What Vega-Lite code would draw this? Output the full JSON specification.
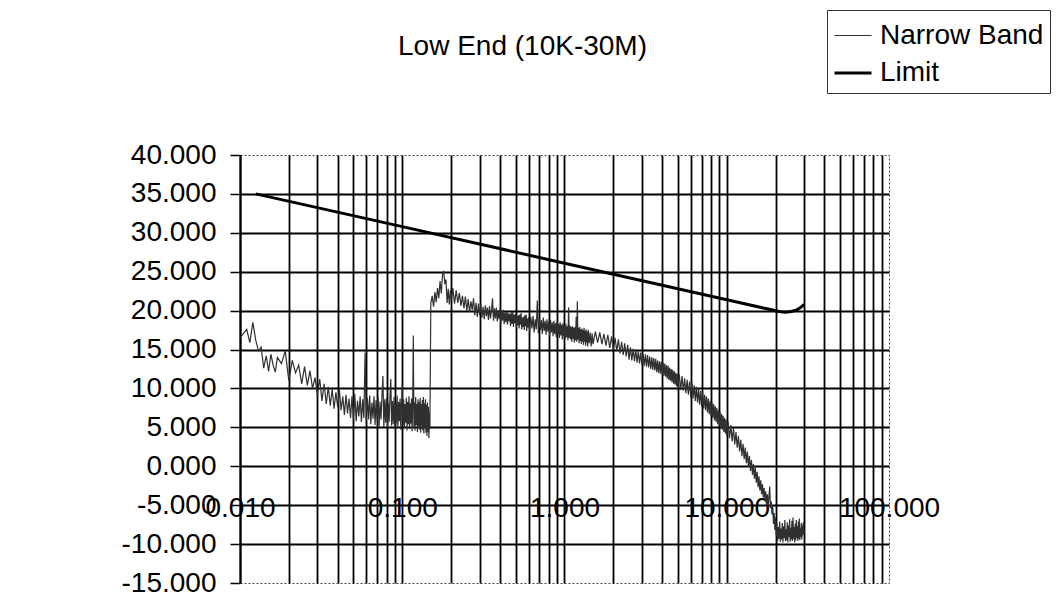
{
  "$schema": "https://vega.github.io/schema/vega-lite/v6.json",
  "autosize": "none",
  "width": 649,
  "height": 428,
  "padding": {"left": 240, "top": 155, "right": 173, "bottom": 33},
  "background": "white",
  "title": {
    "text": "Low End (10K-30M)",
    "font": "Liberation Sans",
    "fontSize": 28,
    "fontWeight": "normal",
    "color": "black",
    "anchor": "middle",
    "frame": "group",
    "dx": -42,
    "offset": -51
  },
  "config": {
    "view": {"stroke": "#444", "strokeDash": [2, 2], "strokeWidth": 1},
    "font": "Liberation Sans"
  },
  "data": {
    "values": [
      {"f": 0.010, "v": 16.5, "s": "Narrow Band"},
      {"f": 0.011, "v": 17.6, "s": "Narrow Band"},
      {"f": 0.0115, "v": 15.9, "s": "Narrow Band"},
      {"f": 0.012, "v": 18.5, "s": "Narrow Band"},
      {"f": 0.0125, "v": 16.2, "s": "Narrow Band"},
      {"f": 0.013, "v": 14.8, "s": "Narrow Band"},
      {"f": 0.0135, "v": 15.3, "s": "Narrow Band"},
      {"f": 0.014, "v": 12.6, "s": "Narrow Band"},
      {"f": 0.0145, "v": 14.2, "s": "Narrow Band"},
      {"f": 0.015, "v": 12.2, "s": "Narrow Band"},
      {"f": 0.0155, "v": 14.4, "s": "Narrow Band"},
      {"f": 0.016, "v": 13.0, "s": "Narrow Band"},
      {"f": 0.0165, "v": 12.1, "s": "Narrow Band"},
      {"f": 0.017, "v": 14.0, "s": "Narrow Band"},
      {"f": 0.018, "v": 13.2, "s": "Narrow Band"},
      {"f": 0.019, "v": 14.8, "s": "Narrow Band"},
      {"f": 0.020, "v": 11.0, "s": "Narrow Band"},
      {"f": 0.021, "v": 13.6, "s": "Narrow Band"},
      {"f": 0.022, "v": 12.0, "s": "Narrow Band"},
      {"f": 0.023, "v": 13.0, "s": "Narrow Band"},
      {"f": 0.024, "v": 10.6, "s": "Narrow Band"},
      {"f": 0.025, "v": 12.8, "s": "Narrow Band"},
      {"f": 0.026, "v": 10.4, "s": "Narrow Band"},
      {"f": 0.027, "v": 12.3, "s": "Narrow Band"},
      {"f": 0.028, "v": 10.0, "s": "Narrow Band"},
      {"f": 0.029, "v": 11.4, "s": "Narrow Band"},
      {"f": 0.030, "v": 9.2, "s": "Narrow Band"},
      {"f": 0.031, "v": 11.2, "s": "Narrow Band"},
      {"f": 0.032, "v": 8.4, "s": "Narrow Band"},
      {"f": 0.033, "v": 10.6, "s": "Narrow Band"},
      {"f": 0.034, "v": 8.0, "s": "Narrow Band"},
      {"f": 0.035, "v": 10.2, "s": "Narrow Band"},
      {"f": 0.036, "v": 7.8, "s": "Narrow Band"},
      {"f": 0.037, "v": 9.9, "s": "Narrow Band"},
      {"f": 0.038, "v": 7.4, "s": "Narrow Band"},
      {"f": 0.039, "v": 9.5, "s": "Narrow Band"},
      {"f": 0.040, "v": 7.6, "s": "Narrow Band"},
      {"f": 0.041, "v": 9.8, "s": "Narrow Band"},
      {"f": 0.042, "v": 7.2, "s": "Narrow Band"},
      {"f": 0.043, "v": 9.0, "s": "Narrow Band"},
      {"f": 0.044, "v": 6.6, "s": "Narrow Band"},
      {"f": 0.045, "v": 9.2, "s": "Narrow Band"},
      {"f": 0.046, "v": 6.8, "s": "Narrow Band"},
      {"f": 0.047, "v": 8.7, "s": "Narrow Band"},
      {"f": 0.048, "v": 6.2, "s": "Narrow Band"},
      {"f": 0.049, "v": 9.0, "s": "Narrow Band"},
      {"f": 0.050, "v": 6.0, "s": "Narrow Band"},
      {"f": 0.051, "v": 9.3, "s": "Narrow Band"},
      {"f": 0.052, "v": 5.8, "s": "Narrow Band"},
      {"f": 0.053, "v": 8.4, "s": "Narrow Band"},
      {"f": 0.054, "v": 6.4, "s": "Narrow Band"},
      {"f": 0.055, "v": 9.0, "s": "Narrow Band"},
      {"f": 0.056, "v": 5.7, "s": "Narrow Band"},
      {"f": 0.057, "v": 8.6, "s": "Narrow Band"},
      {"f": 0.058, "v": 6.2, "s": "Narrow Band"},
      {"f": 0.059, "v": 14.6, "s": "Narrow Band"},
      {"f": 0.060, "v": 5.8, "s": "Narrow Band"},
      {"f": 0.061, "v": 8.8, "s": "Narrow Band"},
      {"f": 0.062, "v": 6.0, "s": "Narrow Band"},
      {"f": 0.063, "v": 9.1, "s": "Narrow Band"},
      {"f": 0.064, "v": 5.4, "s": "Narrow Band"},
      {"f": 0.065, "v": 8.2, "s": "Narrow Band"},
      {"f": 0.066, "v": 6.1, "s": "Narrow Band"},
      {"f": 0.067, "v": 9.0, "s": "Narrow Band"},
      {"f": 0.068, "v": 5.3, "s": "Narrow Band"},
      {"f": 0.069, "v": 8.5, "s": "Narrow Band"},
      {"f": 0.070, "v": 5.9, "s": "Narrow Band"},
      {"f": 0.071, "v": 8.9, "s": "Narrow Band"},
      {"f": 0.072, "v": 5.1, "s": "Narrow Band"},
      {"f": 0.073, "v": 8.3, "s": "Narrow Band"},
      {"f": 0.074, "v": 6.0, "s": "Narrow Band"},
      {"f": 0.075, "v": 9.2, "s": "Narrow Band"},
      {"f": 0.076, "v": 11.6, "s": "Narrow Band"},
      {"f": 0.077, "v": 5.0, "s": "Narrow Band"},
      {"f": 0.078, "v": 8.6, "s": "Narrow Band"},
      {"f": 0.079, "v": 5.6, "s": "Narrow Band"},
      {"f": 0.080, "v": 8.8, "s": "Narrow Band"},
      {"f": 0.081, "v": 4.9, "s": "Narrow Band"},
      {"f": 0.082, "v": 8.1, "s": "Narrow Band"},
      {"f": 0.083, "v": 5.7, "s": "Narrow Band"},
      {"f": 0.084, "v": 9.0, "s": "Narrow Band"},
      {"f": 0.085, "v": 11.2, "s": "Narrow Band"},
      {"f": 0.086, "v": 5.2, "s": "Narrow Band"},
      {"f": 0.087, "v": 8.4, "s": "Narrow Band"},
      {"f": 0.088, "v": 5.4, "s": "Narrow Band"},
      {"f": 0.089, "v": 8.9, "s": "Narrow Band"},
      {"f": 0.090, "v": 4.8, "s": "Narrow Band"},
      {"f": 0.091, "v": 8.0, "s": "Narrow Band"},
      {"f": 0.092, "v": 5.5, "s": "Narrow Band"},
      {"f": 0.093, "v": 9.1, "s": "Narrow Band"},
      {"f": 0.094, "v": 5.0, "s": "Narrow Band"},
      {"f": 0.095, "v": 8.3, "s": "Narrow Band"},
      {"f": 0.096, "v": 5.8, "s": "Narrow Band"},
      {"f": 0.097, "v": 8.7, "s": "Narrow Band"},
      {"f": 0.098, "v": 4.7, "s": "Narrow Band"},
      {"f": 0.099, "v": 8.2, "s": "Narrow Band"},
      {"f": 0.100, "v": 10.4, "s": "Narrow Band"},
      {"f": 0.101, "v": 5.3, "s": "Narrow Band"},
      {"f": 0.102, "v": 8.6, "s": "Narrow Band"},
      {"f": 0.103, "v": 4.9, "s": "Narrow Band"},
      {"f": 0.104, "v": 8.0, "s": "Narrow Band"},
      {"f": 0.105, "v": 5.6, "s": "Narrow Band"},
      {"f": 0.106, "v": 8.8, "s": "Narrow Band"},
      {"f": 0.107, "v": 4.6, "s": "Narrow Band"},
      {"f": 0.108, "v": 8.3, "s": "Narrow Band"},
      {"f": 0.109, "v": 5.4, "s": "Narrow Band"},
      {"f": 0.110, "v": 9.0, "s": "Narrow Band"},
      {"f": 0.111, "v": 4.8, "s": "Narrow Band"},
      {"f": 0.112, "v": 8.1, "s": "Narrow Band"},
      {"f": 0.113, "v": 5.5, "s": "Narrow Band"},
      {"f": 0.114, "v": 8.7, "s": "Narrow Band"},
      {"f": 0.115, "v": 4.5, "s": "Narrow Band"},
      {"f": 0.116, "v": 8.4, "s": "Narrow Band"},
      {"f": 0.117, "v": 16.8, "s": "Narrow Band"},
      {"f": 0.118, "v": 5.0, "s": "Narrow Band"},
      {"f": 0.119, "v": 8.2, "s": "Narrow Band"},
      {"f": 0.120, "v": 4.6, "s": "Narrow Band"},
      {"f": 0.121, "v": 8.9, "s": "Narrow Band"},
      {"f": 0.122, "v": 5.3, "s": "Narrow Band"},
      {"f": 0.123, "v": 8.0, "s": "Narrow Band"},
      {"f": 0.124, "v": 4.4, "s": "Narrow Band"},
      {"f": 0.125, "v": 8.6, "s": "Narrow Band"},
      {"f": 0.126, "v": 5.1, "s": "Narrow Band"},
      {"f": 0.127, "v": 8.3, "s": "Narrow Band"},
      {"f": 0.128, "v": 4.7, "s": "Narrow Band"},
      {"f": 0.129, "v": 8.8, "s": "Narrow Band"},
      {"f": 0.130, "v": 4.3, "s": "Narrow Band"},
      {"f": 0.131, "v": 8.0, "s": "Narrow Band"},
      {"f": 0.132, "v": 5.2, "s": "Narrow Band"},
      {"f": 0.133, "v": 8.5, "s": "Narrow Band"},
      {"f": 0.134, "v": 4.6, "s": "Narrow Band"},
      {"f": 0.135, "v": 8.9, "s": "Narrow Band"},
      {"f": 0.136, "v": 4.2, "s": "Narrow Band"},
      {"f": 0.137, "v": 8.1, "s": "Narrow Band"},
      {"f": 0.138, "v": 5.0, "s": "Narrow Band"},
      {"f": 0.139, "v": 8.6, "s": "Narrow Band"},
      {"f": 0.140, "v": 4.3, "s": "Narrow Band"},
      {"f": 0.141, "v": 7.9, "s": "Narrow Band"},
      {"f": 0.142, "v": 3.9, "s": "Narrow Band"},
      {"f": 0.143, "v": 8.2, "s": "Narrow Band"},
      {"f": 0.144, "v": 4.4, "s": "Narrow Band"},
      {"f": 0.145, "v": 7.6, "s": "Narrow Band"},
      {"f": 0.146, "v": 3.6, "s": "Narrow Band"},
      {"f": 0.147, "v": 6.9, "s": "Narrow Band"},
      {"f": 0.148, "v": 4.8, "s": "Narrow Band"},
      {"f": 0.150, "v": 21.0, "s": "Narrow Band"},
      {"f": 0.153, "v": 21.9, "s": "Narrow Band"},
      {"f": 0.156, "v": 20.5, "s": "Narrow Band"},
      {"f": 0.159, "v": 22.4, "s": "Narrow Band"},
      {"f": 0.162, "v": 21.1, "s": "Narrow Band"},
      {"f": 0.165, "v": 22.9, "s": "Narrow Band"},
      {"f": 0.168, "v": 21.6, "s": "Narrow Band"},
      {"f": 0.171, "v": 23.8, "s": "Narrow Band"},
      {"f": 0.174, "v": 22.2, "s": "Narrow Band"},
      {"f": 0.177, "v": 24.6, "s": "Narrow Band"},
      {"f": 0.180, "v": 25.1, "s": "Narrow Band"},
      {"f": 0.183, "v": 23.4, "s": "Narrow Band"},
      {"f": 0.186, "v": 24.0, "s": "Narrow Band"},
      {"f": 0.189, "v": 21.0, "s": "Narrow Band"},
      {"f": 0.192, "v": 22.8, "s": "Narrow Band"},
      {"f": 0.195, "v": 20.8, "s": "Narrow Band"},
      {"f": 0.198, "v": 22.6, "s": "Narrow Band"},
      {"f": 0.201, "v": 21.3, "s": "Narrow Band"},
      {"f": 0.205, "v": 22.9, "s": "Narrow Band"},
      {"f": 0.210, "v": 20.9, "s": "Narrow Band"},
      {"f": 0.215, "v": 22.6, "s": "Narrow Band"},
      {"f": 0.220, "v": 21.0, "s": "Narrow Band"},
      {"f": 0.225, "v": 22.3, "s": "Narrow Band"},
      {"f": 0.230, "v": 20.6, "s": "Narrow Band"},
      {"f": 0.235, "v": 21.9, "s": "Narrow Band"},
      {"f": 0.240, "v": 20.3, "s": "Narrow Band"},
      {"f": 0.245, "v": 21.8, "s": "Narrow Band"},
      {"f": 0.250, "v": 20.0, "s": "Narrow Band"},
      {"f": 0.255, "v": 21.5, "s": "Narrow Band"},
      {"f": 0.260, "v": 19.8, "s": "Narrow Band"},
      {"f": 0.265, "v": 21.2, "s": "Narrow Band"},
      {"f": 0.270, "v": 20.1, "s": "Narrow Band"},
      {"f": 0.275, "v": 21.6, "s": "Narrow Band"},
      {"f": 0.280, "v": 19.4, "s": "Narrow Band"},
      {"f": 0.285, "v": 21.0, "s": "Narrow Band"},
      {"f": 0.290, "v": 19.2, "s": "Narrow Band"},
      {"f": 0.295, "v": 20.9, "s": "Narrow Band"},
      {"f": 0.300, "v": 19.4, "s": "Narrow Band"},
      {"f": 0.305, "v": 20.8, "s": "Narrow Band"},
      {"f": 0.310, "v": 19.1, "s": "Narrow Band"},
      {"f": 0.315, "v": 20.5, "s": "Narrow Band"},
      {"f": 0.320, "v": 18.9, "s": "Narrow Band"},
      {"f": 0.325, "v": 20.7, "s": "Narrow Band"},
      {"f": 0.330, "v": 19.3, "s": "Narrow Band"},
      {"f": 0.335, "v": 20.4, "s": "Narrow Band"},
      {"f": 0.340, "v": 18.8, "s": "Narrow Band"},
      {"f": 0.345, "v": 20.6, "s": "Narrow Band"},
      {"f": 0.350, "v": 19.0, "s": "Narrow Band"},
      {"f": 0.355, "v": 20.1, "s": "Narrow Band"},
      {"f": 0.360, "v": 21.6, "s": "Narrow Band"},
      {"f": 0.365, "v": 18.7, "s": "Narrow Band"},
      {"f": 0.370, "v": 20.3, "s": "Narrow Band"},
      {"f": 0.375, "v": 19.0, "s": "Narrow Band"},
      {"f": 0.380, "v": 20.4, "s": "Narrow Band"},
      {"f": 0.385, "v": 18.6, "s": "Narrow Band"},
      {"f": 0.390, "v": 20.0, "s": "Narrow Band"},
      {"f": 0.395, "v": 18.9, "s": "Narrow Band"},
      {"f": 0.400, "v": 20.2, "s": "Narrow Band"},
      {"f": 0.405, "v": 18.4, "s": "Narrow Band"},
      {"f": 0.410, "v": 19.9, "s": "Narrow Band"},
      {"f": 0.415, "v": 18.7, "s": "Narrow Band"},
      {"f": 0.420, "v": 20.1, "s": "Narrow Band"},
      {"f": 0.425, "v": 18.3, "s": "Narrow Band"},
      {"f": 0.430, "v": 19.8, "s": "Narrow Band"},
      {"f": 0.435, "v": 18.5, "s": "Narrow Band"},
      {"f": 0.440, "v": 20.0, "s": "Narrow Band"},
      {"f": 0.445, "v": 18.2, "s": "Narrow Band"},
      {"f": 0.450, "v": 19.7, "s": "Narrow Band"},
      {"f": 0.455, "v": 18.6, "s": "Narrow Band"},
      {"f": 0.460, "v": 19.6, "s": "Narrow Band"},
      {"f": 0.465, "v": 18.0, "s": "Narrow Band"},
      {"f": 0.470, "v": 19.8, "s": "Narrow Band"},
      {"f": 0.475, "v": 18.3, "s": "Narrow Band"},
      {"f": 0.480, "v": 19.9, "s": "Narrow Band"},
      {"f": 0.485, "v": 17.9, "s": "Narrow Band"},
      {"f": 0.490, "v": 19.5, "s": "Narrow Band"},
      {"f": 0.495, "v": 18.4, "s": "Narrow Band"},
      {"f": 0.500, "v": 19.6, "s": "Narrow Band"},
      {"f": 0.505, "v": 17.8, "s": "Narrow Band"},
      {"f": 0.510, "v": 19.3, "s": "Narrow Band"},
      {"f": 0.515, "v": 18.1, "s": "Narrow Band"},
      {"f": 0.520, "v": 19.4, "s": "Narrow Band"},
      {"f": 0.525, "v": 17.7, "s": "Narrow Band"},
      {"f": 0.530, "v": 19.5, "s": "Narrow Band"},
      {"f": 0.535, "v": 18.2, "s": "Narrow Band"},
      {"f": 0.540, "v": 19.7, "s": "Narrow Band"},
      {"f": 0.545, "v": 17.6, "s": "Narrow Band"},
      {"f": 0.550, "v": 19.1, "s": "Narrow Band"},
      {"f": 0.555, "v": 17.9, "s": "Narrow Band"},
      {"f": 0.560, "v": 19.2, "s": "Narrow Band"},
      {"f": 0.565, "v": 17.5, "s": "Narrow Band"},
      {"f": 0.570, "v": 19.4, "s": "Narrow Band"},
      {"f": 0.575, "v": 18.0, "s": "Narrow Band"},
      {"f": 0.580, "v": 19.5, "s": "Narrow Band"},
      {"f": 0.585, "v": 17.4, "s": "Narrow Band"},
      {"f": 0.590, "v": 19.0, "s": "Narrow Band"},
      {"f": 0.595, "v": 17.8, "s": "Narrow Band"},
      {"f": 0.600, "v": 19.1, "s": "Narrow Band"},
      {"f": 0.61, "v": 17.3, "s": "Narrow Band"},
      {"f": 0.62, "v": 19.2, "s": "Narrow Band"},
      {"f": 0.63, "v": 17.7, "s": "Narrow Band"},
      {"f": 0.64, "v": 19.3, "s": "Narrow Band"},
      {"f": 0.65, "v": 17.2, "s": "Narrow Band"},
      {"f": 0.66, "v": 18.9, "s": "Narrow Band"},
      {"f": 0.67, "v": 17.6, "s": "Narrow Band"},
      {"f": 0.68, "v": 21.3, "s": "Narrow Band"},
      {"f": 0.69, "v": 17.1, "s": "Narrow Band"},
      {"f": 0.70, "v": 19.0, "s": "Narrow Band"},
      {"f": 0.71, "v": 17.5, "s": "Narrow Band"},
      {"f": 0.72, "v": 18.8, "s": "Narrow Band"},
      {"f": 0.73, "v": 17.0, "s": "Narrow Band"},
      {"f": 0.74, "v": 19.1, "s": "Narrow Band"},
      {"f": 0.75, "v": 17.4, "s": "Narrow Band"},
      {"f": 0.76, "v": 18.7, "s": "Narrow Band"},
      {"f": 0.77, "v": 16.9, "s": "Narrow Band"},
      {"f": 0.78, "v": 18.9, "s": "Narrow Band"},
      {"f": 0.79, "v": 17.3, "s": "Narrow Band"},
      {"f": 0.80, "v": 18.6, "s": "Narrow Band"},
      {"f": 0.81, "v": 16.8, "s": "Narrow Band"},
      {"f": 0.82, "v": 18.8, "s": "Narrow Band"},
      {"f": 0.83, "v": 17.2, "s": "Narrow Band"},
      {"f": 0.84, "v": 18.5, "s": "Narrow Band"},
      {"f": 0.85, "v": 16.7, "s": "Narrow Band"},
      {"f": 0.86, "v": 18.7, "s": "Narrow Band"},
      {"f": 0.87, "v": 17.0, "s": "Narrow Band"},
      {"f": 0.88, "v": 18.4, "s": "Narrow Band"},
      {"f": 0.89, "v": 16.6, "s": "Narrow Band"},
      {"f": 0.90, "v": 18.6, "s": "Narrow Band"},
      {"f": 0.91, "v": 16.9, "s": "Narrow Band"},
      {"f": 0.92, "v": 18.3, "s": "Narrow Band"},
      {"f": 0.93, "v": 16.5, "s": "Narrow Band"},
      {"f": 0.94, "v": 18.5, "s": "Narrow Band"},
      {"f": 0.95, "v": 16.8, "s": "Narrow Band"},
      {"f": 0.96, "v": 18.2, "s": "Narrow Band"},
      {"f": 0.97, "v": 16.3, "s": "Narrow Band"},
      {"f": 0.98, "v": 18.4, "s": "Narrow Band"},
      {"f": 0.99, "v": 16.7, "s": "Narrow Band"},
      {"f": 1.00, "v": 18.1, "s": "Narrow Band"},
      {"f": 1.01, "v": 16.4, "s": "Narrow Band"},
      {"f": 1.02, "v": 18.3, "s": "Narrow Band"},
      {"f": 1.03, "v": 16.6, "s": "Narrow Band"},
      {"f": 1.04, "v": 18.0, "s": "Narrow Band"},
      {"f": 1.05, "v": 16.2, "s": "Narrow Band"},
      {"f": 1.06, "v": 20.4, "s": "Narrow Band"},
      {"f": 1.07, "v": 16.5, "s": "Narrow Band"},
      {"f": 1.08, "v": 18.1, "s": "Narrow Band"},
      {"f": 1.09, "v": 16.3, "s": "Narrow Band"},
      {"f": 1.10, "v": 17.9, "s": "Narrow Band"},
      {"f": 1.11, "v": 16.0, "s": "Narrow Band"},
      {"f": 1.12, "v": 18.0, "s": "Narrow Band"},
      {"f": 1.13, "v": 16.4, "s": "Narrow Band"},
      {"f": 1.14, "v": 17.8, "s": "Narrow Band"},
      {"f": 1.15, "v": 15.9, "s": "Narrow Band"},
      {"f": 1.16, "v": 17.9, "s": "Narrow Band"},
      {"f": 1.17, "v": 16.2, "s": "Narrow Band"},
      {"f": 1.18, "v": 19.2, "s": "Narrow Band"},
      {"f": 1.19, "v": 16.0, "s": "Narrow Band"},
      {"f": 1.20, "v": 21.2, "s": "Narrow Band"},
      {"f": 1.21, "v": 16.3, "s": "Narrow Band"},
      {"f": 1.22, "v": 17.8, "s": "Narrow Band"},
      {"f": 1.23, "v": 15.8, "s": "Narrow Band"},
      {"f": 1.24, "v": 17.9, "s": "Narrow Band"},
      {"f": 1.25, "v": 16.1, "s": "Narrow Band"},
      {"f": 1.26, "v": 17.6, "s": "Narrow Band"},
      {"f": 1.27, "v": 15.7, "s": "Narrow Band"},
      {"f": 1.28, "v": 17.7, "s": "Narrow Band"},
      {"f": 1.29, "v": 16.0, "s": "Narrow Band"},
      {"f": 1.30, "v": 17.5, "s": "Narrow Band"},
      {"f": 1.31, "v": 15.6, "s": "Narrow Band"},
      {"f": 1.32, "v": 17.8, "s": "Narrow Band"},
      {"f": 1.33, "v": 16.0, "s": "Narrow Band"},
      {"f": 1.34, "v": 17.4, "s": "Narrow Band"},
      {"f": 1.35, "v": 15.5, "s": "Narrow Band"},
      {"f": 1.36, "v": 17.6, "s": "Narrow Band"},
      {"f": 1.37, "v": 15.9, "s": "Narrow Band"},
      {"f": 1.38, "v": 17.3, "s": "Narrow Band"},
      {"f": 1.39, "v": 15.4, "s": "Narrow Band"},
      {"f": 1.40, "v": 17.5, "s": "Narrow Band"},
      {"f": 1.42, "v": 15.8, "s": "Narrow Band"},
      {"f": 1.44, "v": 17.2, "s": "Narrow Band"},
      {"f": 1.46, "v": 15.4, "s": "Narrow Band"},
      {"f": 1.48, "v": 17.1, "s": "Narrow Band"},
      {"f": 1.50, "v": 15.7, "s": "Narrow Band"},
      {"f": 1.55, "v": 17.3, "s": "Narrow Band"},
      {"f": 1.60, "v": 15.9, "s": "Narrow Band"},
      {"f": 1.65, "v": 17.2, "s": "Narrow Band"},
      {"f": 1.70, "v": 15.7, "s": "Narrow Band"},
      {"f": 1.75, "v": 17.0, "s": "Narrow Band"},
      {"f": 1.80, "v": 15.5, "s": "Narrow Band"},
      {"f": 1.85, "v": 16.9, "s": "Narrow Band"},
      {"f": 1.90, "v": 15.2, "s": "Narrow Band"},
      {"f": 1.95, "v": 16.7, "s": "Narrow Band"},
      {"f": 2.00, "v": 14.9, "s": "Narrow Band"},
      {"f": 2.05, "v": 16.5, "s": "Narrow Band"},
      {"f": 2.10, "v": 14.8, "s": "Narrow Band"},
      {"f": 2.15, "v": 16.3, "s": "Narrow Band"},
      {"f": 2.20, "v": 14.5, "s": "Narrow Band"},
      {"f": 2.25, "v": 16.0, "s": "Narrow Band"},
      {"f": 2.30, "v": 14.3, "s": "Narrow Band"},
      {"f": 2.35, "v": 15.8, "s": "Narrow Band"},
      {"f": 2.40, "v": 14.1, "s": "Narrow Band"},
      {"f": 2.45, "v": 15.6, "s": "Narrow Band"},
      {"f": 2.50, "v": 13.7, "s": "Narrow Band"},
      {"f": 2.55, "v": 15.3, "s": "Narrow Band"},
      {"f": 2.60, "v": 13.6, "s": "Narrow Band"},
      {"f": 2.65, "v": 15.1, "s": "Narrow Band"},
      {"f": 2.70, "v": 13.5, "s": "Narrow Band"},
      {"f": 2.75, "v": 15.0, "s": "Narrow Band"},
      {"f": 2.80, "v": 13.3, "s": "Narrow Band"},
      {"f": 2.85, "v": 14.8, "s": "Narrow Band"},
      {"f": 2.90, "v": 13.2, "s": "Narrow Band"},
      {"f": 2.95, "v": 14.6, "s": "Narrow Band"},
      {"f": 3.00, "v": 13.0, "s": "Narrow Band"},
      {"f": 3.05, "v": 14.5, "s": "Narrow Band"},
      {"f": 3.10, "v": 12.9, "s": "Narrow Band"},
      {"f": 3.15, "v": 14.4, "s": "Narrow Band"},
      {"f": 3.20, "v": 12.8, "s": "Narrow Band"},
      {"f": 3.25, "v": 14.3, "s": "Narrow Band"},
      {"f": 3.30, "v": 12.7, "s": "Narrow Band"},
      {"f": 3.35, "v": 14.1, "s": "Narrow Band"},
      {"f": 3.40, "v": 12.5, "s": "Narrow Band"},
      {"f": 3.45, "v": 14.0, "s": "Narrow Band"},
      {"f": 3.50, "v": 12.4, "s": "Narrow Band"},
      {"f": 3.55, "v": 13.9, "s": "Narrow Band"},
      {"f": 3.60, "v": 12.3, "s": "Narrow Band"},
      {"f": 3.65, "v": 13.8, "s": "Narrow Band"},
      {"f": 3.70, "v": 12.1, "s": "Narrow Band"},
      {"f": 3.75, "v": 13.6, "s": "Narrow Band"},
      {"f": 3.80, "v": 12.0, "s": "Narrow Band"},
      {"f": 3.85, "v": 13.5, "s": "Narrow Band"},
      {"f": 3.90, "v": 11.9, "s": "Narrow Band"},
      {"f": 3.95, "v": 13.4, "s": "Narrow Band"},
      {"f": 4.00, "v": 11.8, "s": "Narrow Band"},
      {"f": 4.05, "v": 13.3, "s": "Narrow Band"},
      {"f": 4.10, "v": 11.6, "s": "Narrow Band"},
      {"f": 4.15, "v": 13.2, "s": "Narrow Band"},
      {"f": 4.20, "v": 11.5, "s": "Narrow Band"},
      {"f": 4.25, "v": 13.0, "s": "Narrow Band"},
      {"f": 4.30, "v": 11.3, "s": "Narrow Band"},
      {"f": 4.35, "v": 12.9, "s": "Narrow Band"},
      {"f": 4.40, "v": 11.1, "s": "Narrow Band"},
      {"f": 4.45, "v": 12.7, "s": "Narrow Band"},
      {"f": 4.50, "v": 11.0, "s": "Narrow Band"},
      {"f": 4.55, "v": 12.5, "s": "Narrow Band"},
      {"f": 4.60, "v": 10.8, "s": "Narrow Band"},
      {"f": 4.65, "v": 12.4, "s": "Narrow Band"},
      {"f": 4.70, "v": 10.6, "s": "Narrow Band"},
      {"f": 4.75, "v": 12.2, "s": "Narrow Band"},
      {"f": 4.80, "v": 10.5, "s": "Narrow Band"},
      {"f": 4.85, "v": 12.0, "s": "Narrow Band"},
      {"f": 4.90, "v": 10.3, "s": "Narrow Band"},
      {"f": 4.95, "v": 11.9, "s": "Narrow Band"},
      {"f": 5.00, "v": 10.1, "s": "Narrow Band"},
      {"f": 5.1, "v": 11.8, "s": "Narrow Band"},
      {"f": 5.2, "v": 9.8, "s": "Narrow Band"},
      {"f": 5.3, "v": 11.6, "s": "Narrow Band"},
      {"f": 5.4, "v": 9.7, "s": "Narrow Band"},
      {"f": 5.5, "v": 11.3, "s": "Narrow Band"},
      {"f": 5.6, "v": 9.4, "s": "Narrow Band"},
      {"f": 5.7, "v": 11.1, "s": "Narrow Band"},
      {"f": 5.8, "v": 9.2, "s": "Narrow Band"},
      {"f": 5.9, "v": 10.9, "s": "Narrow Band"},
      {"f": 6.0, "v": 8.9, "s": "Narrow Band"},
      {"f": 6.1, "v": 10.7, "s": "Narrow Band"},
      {"f": 6.2, "v": 8.7, "s": "Narrow Band"},
      {"f": 6.3, "v": 10.4, "s": "Narrow Band"},
      {"f": 6.4, "v": 8.4, "s": "Narrow Band"},
      {"f": 6.5, "v": 10.2, "s": "Narrow Band"},
      {"f": 6.6, "v": 8.2, "s": "Narrow Band"},
      {"f": 6.7, "v": 10.0, "s": "Narrow Band"},
      {"f": 6.8, "v": 7.9, "s": "Narrow Band"},
      {"f": 6.9, "v": 9.7, "s": "Narrow Band"},
      {"f": 7.0, "v": 7.7, "s": "Narrow Band"},
      {"f": 7.1, "v": 9.5, "s": "Narrow Band"},
      {"f": 7.2, "v": 7.4, "s": "Narrow Band"},
      {"f": 7.3, "v": 9.2, "s": "Narrow Band"},
      {"f": 7.4, "v": 7.2, "s": "Narrow Band"},
      {"f": 7.5, "v": 9.0, "s": "Narrow Band"},
      {"f": 7.6, "v": 6.9, "s": "Narrow Band"},
      {"f": 7.7, "v": 8.7, "s": "Narrow Band"},
      {"f": 7.8, "v": 6.7, "s": "Narrow Band"},
      {"f": 7.9, "v": 8.4, "s": "Narrow Band"},
      {"f": 8.0, "v": 6.4, "s": "Narrow Band"},
      {"f": 8.1, "v": 8.2, "s": "Narrow Band"},
      {"f": 8.2, "v": 6.2, "s": "Narrow Band"},
      {"f": 8.3, "v": 8.0, "s": "Narrow Band"},
      {"f": 8.4, "v": 5.9, "s": "Narrow Band"},
      {"f": 8.5, "v": 7.7, "s": "Narrow Band"},
      {"f": 8.6, "v": 5.7, "s": "Narrow Band"},
      {"f": 8.7, "v": 7.5, "s": "Narrow Band"},
      {"f": 8.8, "v": 5.4, "s": "Narrow Band"},
      {"f": 8.9, "v": 7.2, "s": "Narrow Band"},
      {"f": 9.0, "v": 5.2, "s": "Narrow Band"},
      {"f": 9.1, "v": 7.0, "s": "Narrow Band"},
      {"f": 9.2, "v": 4.9, "s": "Narrow Band"},
      {"f": 9.3, "v": 6.7, "s": "Narrow Band"},
      {"f": 9.4, "v": 4.7, "s": "Narrow Band"},
      {"f": 9.5, "v": 6.5, "s": "Narrow Band"},
      {"f": 9.6, "v": 4.4, "s": "Narrow Band"},
      {"f": 9.7, "v": 6.2, "s": "Narrow Band"},
      {"f": 9.8, "v": 4.2, "s": "Narrow Band"},
      {"f": 9.9, "v": 6.0, "s": "Narrow Band"},
      {"f": 10.0, "v": 3.9, "s": "Narrow Band"},
      {"f": 10.2, "v": 5.7, "s": "Narrow Band"},
      {"f": 10.4, "v": 3.6, "s": "Narrow Band"},
      {"f": 10.6, "v": 5.3, "s": "Narrow Band"},
      {"f": 10.8, "v": 3.2, "s": "Narrow Band"},
      {"f": 11.0, "v": 4.9, "s": "Narrow Band"},
      {"f": 11.2, "v": 2.8, "s": "Narrow Band"},
      {"f": 11.4, "v": 4.4, "s": "Narrow Band"},
      {"f": 11.6, "v": 2.4, "s": "Narrow Band"},
      {"f": 11.8, "v": 3.9, "s": "Narrow Band"},
      {"f": 12.0, "v": 1.9, "s": "Narrow Band"},
      {"f": 12.2, "v": 3.4, "s": "Narrow Band"},
      {"f": 12.4, "v": 1.3, "s": "Narrow Band"},
      {"f": 12.6, "v": 2.9, "s": "Narrow Band"},
      {"f": 12.8, "v": 0.9, "s": "Narrow Band"},
      {"f": 13.0, "v": 2.4, "s": "Narrow Band"},
      {"f": 13.2, "v": 0.4, "s": "Narrow Band"},
      {"f": 13.4, "v": 1.9, "s": "Narrow Band"},
      {"f": 13.6, "v": -0.1, "s": "Narrow Band"},
      {"f": 13.8, "v": 1.3, "s": "Narrow Band"},
      {"f": 14.0, "v": -0.6, "s": "Narrow Band"},
      {"f": 14.2, "v": 0.8, "s": "Narrow Band"},
      {"f": 14.4, "v": -1.1, "s": "Narrow Band"},
      {"f": 14.6, "v": 0.3, "s": "Narrow Band"},
      {"f": 14.8, "v": -1.6, "s": "Narrow Band"},
      {"f": 15.0, "v": -0.2, "s": "Narrow Band"},
      {"f": 15.2, "v": -2.1, "s": "Narrow Band"},
      {"f": 15.4, "v": -0.7, "s": "Narrow Band"},
      {"f": 15.6, "v": -2.7, "s": "Narrow Band"},
      {"f": 15.8, "v": -1.3, "s": "Narrow Band"},
      {"f": 16.0, "v": -3.1, "s": "Narrow Band"},
      {"f": 16.2, "v": -1.8, "s": "Narrow Band"},
      {"f": 16.4, "v": -3.6, "s": "Narrow Band"},
      {"f": 16.6, "v": -2.3, "s": "Narrow Band"},
      {"f": 16.8, "v": -4.0, "s": "Narrow Band"},
      {"f": 17.0, "v": -2.8, "s": "Narrow Band"},
      {"f": 17.2, "v": -4.5, "s": "Narrow Band"},
      {"f": 17.4, "v": -3.2, "s": "Narrow Band"},
      {"f": 17.6, "v": -4.9, "s": "Narrow Band"},
      {"f": 17.8, "v": -3.6, "s": "Narrow Band"},
      {"f": 18.0, "v": -5.2, "s": "Narrow Band"},
      {"f": 18.2, "v": -3.9, "s": "Narrow Band"},
      {"f": 18.4, "v": -2.6, "s": "Narrow Band"},
      {"f": 18.6, "v": -5.4, "s": "Narrow Band"},
      {"f": 18.8, "v": -4.5, "s": "Narrow Band"},
      {"f": 19.0, "v": -6.2, "s": "Narrow Band"},
      {"f": 19.2, "v": -5.0, "s": "Narrow Band"},
      {"f": 19.4, "v": -7.4, "s": "Narrow Band"},
      {"f": 19.6, "v": -6.0, "s": "Narrow Band"},
      {"f": 19.8, "v": -8.2, "s": "Narrow Band"},
      {"f": 20.0, "v": -6.6, "s": "Narrow Band"},
      {"f": 20.2, "v": -9.0, "s": "Narrow Band"},
      {"f": 20.4, "v": -7.4, "s": "Narrow Band"},
      {"f": 20.6, "v": -9.6, "s": "Narrow Band"},
      {"f": 20.8, "v": -7.8, "s": "Narrow Band"},
      {"f": 21.0, "v": -9.3, "s": "Narrow Band"},
      {"f": 21.2, "v": -7.1, "s": "Narrow Band"},
      {"f": 21.4, "v": -9.7, "s": "Narrow Band"},
      {"f": 21.6, "v": -8.0, "s": "Narrow Band"},
      {"f": 21.8, "v": -9.4, "s": "Narrow Band"},
      {"f": 22.0, "v": -7.3, "s": "Narrow Band"},
      {"f": 22.2, "v": -9.8, "s": "Narrow Band"},
      {"f": 22.4, "v": -7.7, "s": "Narrow Band"},
      {"f": 22.6, "v": -9.2, "s": "Narrow Band"},
      {"f": 22.8, "v": -6.9, "s": "Narrow Band"},
      {"f": 23.0, "v": -9.6, "s": "Narrow Band"},
      {"f": 23.2, "v": -8.1, "s": "Narrow Band"},
      {"f": 23.4, "v": -9.5, "s": "Narrow Band"},
      {"f": 23.6, "v": -7.2, "s": "Narrow Band"},
      {"f": 23.8, "v": -9.8, "s": "Narrow Band"},
      {"f": 24.0, "v": -7.6, "s": "Narrow Band"},
      {"f": 24.2, "v": -9.1, "s": "Narrow Band"},
      {"f": 24.4, "v": -6.8, "s": "Narrow Band"},
      {"f": 24.6, "v": -9.7, "s": "Narrow Band"},
      {"f": 24.8, "v": -7.9, "s": "Narrow Band"},
      {"f": 25.0, "v": -9.4, "s": "Narrow Band"},
      {"f": 25.2, "v": -7.0, "s": "Narrow Band"},
      {"f": 25.4, "v": -9.6, "s": "Narrow Band"},
      {"f": 25.6, "v": -6.6, "s": "Narrow Band"},
      {"f": 25.8, "v": -9.3, "s": "Narrow Band"},
      {"f": 26.0, "v": -7.8, "s": "Narrow Band"},
      {"f": 26.2, "v": -9.8, "s": "Narrow Band"},
      {"f": 26.4, "v": -7.4, "s": "Narrow Band"},
      {"f": 26.6, "v": -9.5, "s": "Narrow Band"},
      {"f": 26.8, "v": -6.9, "s": "Narrow Band"},
      {"f": 27.0, "v": -9.2, "s": "Narrow Band"},
      {"f": 27.2, "v": -7.7, "s": "Narrow Band"},
      {"f": 27.4, "v": -9.6, "s": "Narrow Band"},
      {"f": 27.6, "v": -7.1, "s": "Narrow Band"},
      {"f": 27.8, "v": -9.3, "s": "Narrow Band"},
      {"f": 28.0, "v": -6.7, "s": "Narrow Band"},
      {"f": 28.2, "v": -9.5, "s": "Narrow Band"},
      {"f": 28.4, "v": -7.9, "s": "Narrow Band"},
      {"f": 28.6, "v": -9.1, "s": "Narrow Band"},
      {"f": 28.8, "v": -7.3, "s": "Narrow Band"},
      {"f": 29.0, "v": -9.4, "s": "Narrow Band"},
      {"f": 29.2, "v": -7.6, "s": "Narrow Band"},
      {"f": 29.4, "v": -8.9, "s": "Narrow Band"},
      {"f": 29.6, "v": -7.2, "s": "Narrow Band"},
      {"f": 29.8, "v": -8.7, "s": "Narrow Band"},
      {"f": 30.0, "v": -8.2, "s": "Narrow Band"},
      {"f": 0.0125, "v": 35.0, "s": "Limit"},
      {"f": 0.1, "v": 30.8, "s": "Limit"},
      {"f": 1, "v": 26.1, "s": "Limit"},
      {"f": 10, "v": 21.4, "s": "Limit"},
      {"f": 18, "v": 20.2, "s": "Limit"},
      {"f": 21, "v": 19.9, "s": "Limit"},
      {"f": 23, "v": 19.8, "s": "Limit"},
      {"f": 25, "v": 19.9, "s": "Limit"},
      {"f": 27, "v": 20.1, "s": "Limit"},
      {"f": 28.5, "v": 20.4, "s": "Limit"},
      {"f": 30, "v": 20.8, "s": "Limit"}
    ]
  },
  "mark": {"type": "line", "clip": true},
  "encoding": {
    "x": {
      "field": "f",
      "type": "quantitative",
      "scale": {"type": "log", "domain": [0.01, 100], "nice": false},
      "axis": {
        "title": null,
        "orient": "bottom",
        "offset": -75,
        "values": [0.01, 0.02, 0.03, 0.04, 0.05, 0.06, 0.07, 0.08, 0.09, 0.1, 0.2, 0.3, 0.4, 0.5, 0.6, 0.7, 0.8, 0.9, 1, 2, 3, 4, 5, 6, 7, 8, 9, 10, 20, 30, 40, 50, 60, 70, 80, 90, 100],
        "labelExpr": "indexof([0.01, 0.1, 1, 10, 100], datum.value) >= 0 ? format(datum.value, '.3f') : ''",
        "domain": false,
        "ticks": false,
        "tickSize": 0,
        "labelPadding": 0,
        "labelBaseline": "middle",
        "labelFont": "Liberation Sans",
        "labelFontSize": 28,
        "labelColor": "black",
        "labelOverlap": false,
        "labelFlush": false,
        "labelBound": false,
        "grid": true,
        "gridColor": "black",
        "gridWidth": 1.8,
        "gridOpacity": {"condition": {"test": "datum.value == 100", "value": 0}, "value": 1}
      }
    },
    "y": {
      "field": "v",
      "type": "quantitative",
      "scale": {"domain": [-15, 40], "nice": false, "zero": false},
      "axis": {
        "title": null,
        "values": [-15, -10, -5, 0, 5, 10, 15, 20, 25, 30, 35, 40],
        "labelExpr": "replace(format(datum.value, '.3f'), '\u2212', '-')",
        "labelFont": "Liberation Sans",
        "labelFontSize": 28,
        "labelColor": "black",
        "labelPadding": 14,
        "labelOverlap": false,
        "labelFlush": false,
        "tickSize": 10,
        "tickColor": "black",
        "tickWidth": 1.5,
        "domainColor": "black",
        "domainWidth": 2,
        "grid": true,
        "gridColor": "black",
        "gridWidth": 1.8,
        "gridOpacity": {"condition": {"test": "datum.value == -15 || datum.value == 40", "value": 0}, "value": 1}
      }
    },
    "color": {
      "field": "s",
      "type": "nominal",
      "scale": {"domain": ["Narrow Band", "Limit"], "range": ["#303030", "#000000"]},
      "legend": {
        "title": null,
        "orient": "none",
        "legendX": 587,
        "legendY": -145,
        "direction": "vertical",
        "strokeColor": "#333",
        "fillColor": "white",
        "padding": 6,
        "rowPadding": 3,
        "symbolType": "stroke",
        "symbolSize": 1369,
        "labelFont": "Liberation Sans",
        "labelFontSize": 28,
        "labelColor": "black",
        "labelOffset": 7,
        "labelLimit": 400
      }
    },
    "strokeWidth": {
      "field": "s",
      "type": "nominal",
      "scale": {"domain": ["Narrow Band", "Limit"], "range": [1.2, 3]},
      "legend": {
        "title": null,
        "orient": "none",
        "legendX": 587,
        "legendY": -145,
        "direction": "vertical",
        "strokeColor": "#333",
        "fillColor": "white",
        "padding": 6,
        "rowPadding": 3,
        "symbolType": "stroke",
        "symbolSize": 1369,
        "labelFont": "Liberation Sans",
        "labelFontSize": 28,
        "labelColor": "black",
        "labelOffset": 7,
        "labelLimit": 400
      }
    }
  }
}
